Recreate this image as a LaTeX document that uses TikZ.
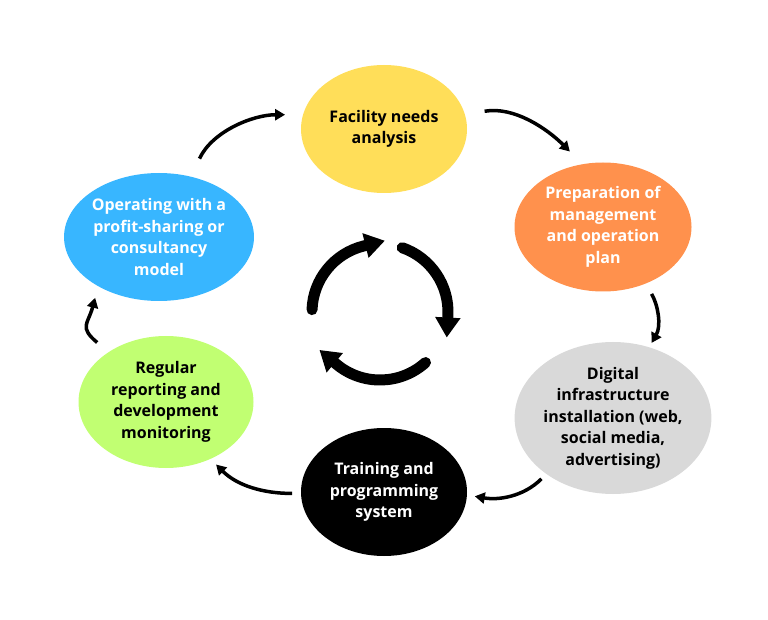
\documentclass[tikz,border=0pt]{standalone}
\usepackage{fontspec}
\setmainfont{Open Sans}
\usepackage{xcolor}
\usepackage{tikz}
\usetikzlibrary{arrows.meta, shapes.geometric}
\definecolor{cyellow}{HTML}{FFDE59}
\definecolor{corange}{HTML}{FF914D}
\definecolor{cgray}{HTML}{D9D9D9}
\definecolor{cgreen}{HTML}{C1FF72}
\definecolor{cblue}{HTML}{38B6FF}

\begin{document}
\begin{tikzpicture}[->,>={Triangle[width=11pt,length=10pt]},x=1pt,y=1pt,line width=3.5pt]
            \tikzset{every node/.style={ellipse, inner sep=0pt, outer sep=0pt, align=center, font=\bfseries\fontsize{16}{21.5}\selectfont}}
            \useasboundingbox (0,0) rectangle (768,619);
            \node[fill=cyellow, minimum width=166, minimum height=128] (facility) at (384,490) {Facility needs\\analysis};
            \node[fill=corange, text=white, minimum width=177, minimum height=129] (plan) at (603,392) {Preparation of\\management\\and operation\\plan};
            \node[fill=cgray, minimum width=192, minimum height=152] (digital) at (613,201) {Digital\\infrastructure\\installation (web,\\social media,\\advertising)};
            \node[fill=black, text=white, minimum width=166, minimum height=128] (training) at (384,127) {Training and\\programming\\system};
            \node[fill=cgreen, minimum width=175, minimum height=132] (report) at (166,217) {Regular\\reporting and\\development\\monitoring};
            \node[fill=cblue, text=white, minimum width=188, minimum height=128] (operate) at (159,382) {Operating with a\\profit-sharing or\\consultancy\\model};
            \path (operate.62) edge[out=65, in=180, shorten <=20pt, shorten >=18pt] (facility.170);
            \path (facility.10) edge[out=10, in=135, shorten <=20pt, shorten >=18pt] (plan.108);
            \path (plan.-53) edge[out=-60, in=60, shorten <=12pt, shorten >=5pt] (digital.63);
            \path (digital.220) edge[out=225, in=-10, shorten <=7pt, shorten >=8pt] (training.-2);
            \path (training.181) edge[out=180, in=-45, shorten <=9pt, shorten >=8pt] (report.-52);
            \path (report.139) edge[out=140, in=255, looseness=1.5, shorten <=15pt, shorten >=12pt] (operate.219);
            \coordinate (hub) at (380,307);
            \tikzset{cycle/.style={line width=11pt, line cap=round, line join=round, >={Triangle[width=24pt,length=20pt]}}}
            \draw[cycle] ([shift={(178:68)}]hub) arc[start angle=178, end angle=104, radius=68] -- ++(14:22);
            \draw[cycle] ([shift={(71:68)}]hub) arc[start angle=71, end angle=-3, radius=68] -- ++(-93:22);
            \draw[cycle] ([shift={(-48:68)}]hub) arc[start angle=-48, end angle=-130, radius=68] -- ++(140:22);
        \end{tikzpicture}
\end{document}
